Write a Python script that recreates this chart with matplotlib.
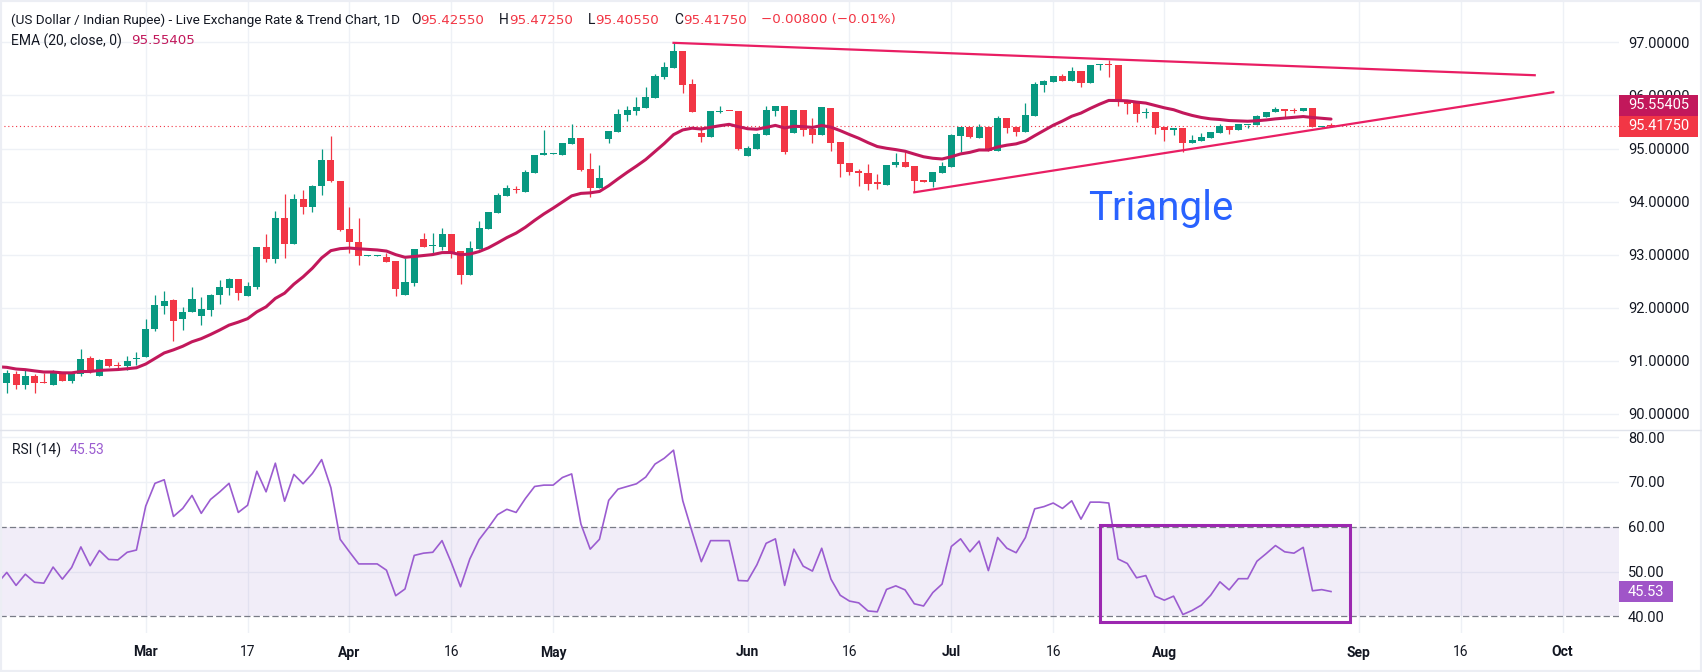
# USD/INR daily candles with EMA(20), triangle drawing and RSI(14) pane

import matplotlib.pyplot as plt
import matplotlib.patches as mpatches
import numpy as np
import pandas as pd

plt.rcParams['font.family'] = ['Roboto', 'DejaVu Sans']

start_date = "2026-02-09"

opens = [90.59, 90.75, 90.55, 90.72, 90.60, 90.55, 90.77, 90.63, 90.75, 91.05,
         90.72, 91.04, 90.93, 90.91, 91.03, 91.08, 91.60, 92.04, 92.15, 91.78,
         91.93, 91.85, 91.96, 92.25, 92.38, 92.54, 92.23, 92.40, 93.15, 92.91,
         93.69, 93.21, 94.05, 93.90, 94.30, 94.78, 94.39, 93.48, 93.24, 92.98,
         92.98, 92.95, 92.88, 92.24, 92.47, 93.29, 93.17, 93.15, 93.39, 93.07,
         92.61, 93.11, 93.48, 93.79, 94.11, 94.22, 94.19, 94.54, 94.87, 94.90,
         94.88, 95.08, 95.20, 94.61, 94.26, 95.17, 95.32, 95.64, 95.71, 95.77,
         95.96, 96.35, 96.52, 96.84, 96.21, 95.30, 95.22, 95.69, 95.71, 95.71,
         94.86, 94.99, 95.25, 95.71, 95.80, 95.30, 95.72, 95.37, 95.25, 95.76,
         95.12, 94.73, 94.58, 94.54, 94.35, 94.32, 94.68, 94.75, 94.67, 94.40,
         94.36, 94.54, 94.66, 95.24, 95.40, 95.20, 95.40, 94.96, 95.57, 95.40,
         95.32, 95.62, 96.20, 96.26, 96.37, 96.28, 96.46, 96.24, 96.58, 96.59,
         96.58, 95.91, 95.86, 95.66, 95.69, 95.40, 95.34, 95.39, 95.11, 95.15,
         95.20, 95.30, 95.43, 95.34, 95.44, 95.45, 95.60, 95.68, 95.75, 95.725,
         95.70, 95.76, 95.40, 95.4255]
highs = [90.83, 90.81, 90.84, 90.75, 90.78, 90.83, 90.80, 90.80, 91.22, 91.10,
         91.03, 91.04, 90.97, 91.09, 91.16, 91.78, 92.24, 92.32, 92.17, 92.01,
         92.39, 92.20, 92.26, 92.52, 92.57, 92.54, 92.49, 93.15, 93.39, 93.82,
         94.14, 94.14, 94.22, 94.31, 94.99, 95.24, 94.39, 93.90, 93.69, 93.00,
         92.99, 93.03, 92.88, 92.93, 93.11, 93.41, 93.41, 93.50, 93.39, 93.07,
         93.26, 93.63, 93.80, 94.16, 94.31, 94.30, 94.60, 94.88, 95.35, 94.92,
         95.10, 95.46, 95.20, 94.92, 94.69, 95.33, 95.74, 95.80, 95.97, 96.16,
         96.40, 96.62, 96.99, 96.84, 96.31, 95.43, 95.71, 95.80, 95.71, 95.71,
         95.05, 95.29, 95.80, 95.80, 95.80, 95.72, 95.72, 95.57, 95.78, 95.76,
         95.12, 94.73, 94.61, 94.71, 94.52, 94.69, 94.92, 94.93, 94.67, 94.40,
         94.55, 94.75, 95.27, 95.40, 95.40, 95.47, 95.40, 95.61, 95.57, 95.40,
         95.86, 96.26, 96.29, 96.37, 96.40, 96.53, 96.46, 96.58, 96.59, 96.67,
         96.58, 95.91, 95.86, 95.76, 95.69, 95.40, 95.39, 95.39, 95.25, 95.29,
         95.31, 95.46, 95.43, 95.46, 95.45, 95.63, 95.68, 95.78, 95.75, 95.76,
         95.76, 95.76, 95.43, 95.4725]
lows = [90.39, 90.48, 90.48, 90.40, 90.58, 90.55, 90.63, 90.59, 90.72, 90.78,
        90.72, 90.88, 90.86, 90.82, 90.92, 91.08, 91.57, 91.88, 91.38, 91.58,
        91.93, 91.68, 91.85, 92.07, 92.24, 92.15, 92.23, 92.36, 92.87, 92.85,
        92.93, 93.21, 93.77, 93.81, 94.13, 94.36, 93.45, 93.04, 92.81, 92.97,
        92.98, 92.87, 92.23, 92.24, 92.41, 93.15, 93.03, 93.09, 92.94, 92.45,
        92.61, 93.11, 93.48, 93.79, 94.11, 94.16, 94.19, 94.54, 94.87, 94.90,
        94.88, 95.08, 94.58, 94.09, 94.26, 95.11, 95.32, 95.52, 95.64, 95.77,
        95.96, 96.30, 96.52, 96.05, 95.69, 95.13, 95.22, 95.67, 95.70, 94.97,
        94.86, 94.99, 95.25, 95.62, 94.90, 95.30, 95.24, 95.11, 95.25, 94.96,
        94.47, 94.51, 94.30, 94.21, 94.23, 94.32, 94.66, 94.66, 94.18, 94.36,
        94.28, 94.54, 94.65, 94.93, 95.19, 95.20, 94.96, 94.96, 95.30, 95.24,
        95.32, 95.62, 96.07, 96.26, 96.28, 96.28, 96.15, 96.24, 96.47, 96.35,
        95.80, 95.65, 95.50, 95.57, 95.28, 95.15, 95.26, 94.94, 95.11, 95.15,
        95.20, 95.30, 95.28, 95.34, 95.39, 95.45, 95.60, 95.68, 95.59, 95.67,
        95.70, 95.41, 95.40, 95.4055]
closes = [90.77, 90.55, 90.72, 90.59, 90.59, 90.79, 90.63, 90.77, 91.04, 90.80,
          91.02, 90.91, 90.91, 91.00, 91.04, 91.61, 92.05, 92.13, 91.76, 91.92,
          92.17, 91.97, 92.24, 92.39, 92.54, 92.27, 92.41, 93.15, 92.91, 93.69,
          93.21, 94.05, 93.90, 94.29, 94.78, 94.38, 93.47, 93.23, 92.98, 92.99,
          92.99, 92.87, 92.36, 92.48, 93.11, 93.15, 93.18, 93.39, 93.06, 92.61,
          93.12, 93.50, 93.80, 94.12, 94.26, 94.21, 94.56, 94.88, 94.92, 94.91,
          95.10, 95.20, 94.60, 94.26, 94.44, 95.33, 95.65, 95.73, 95.78, 95.97,
          96.37, 96.53, 96.84, 96.20, 95.69, 95.22, 95.71, 95.71, 95.70, 94.99,
          95.01, 95.27, 95.72, 95.80, 94.93, 95.72, 95.35, 95.25, 95.78, 95.11,
          94.71, 94.56, 94.53, 94.33, 94.34, 94.69, 94.74, 94.66, 94.39, 94.36,
          94.55, 94.67, 95.25, 95.40, 95.21, 95.40, 94.96, 95.57, 95.39, 95.32,
          95.63, 96.21, 96.27, 96.37, 96.28, 96.46, 96.24, 96.58, 96.59, 96.58,
          95.89, 95.84, 95.65, 95.68, 95.39, 95.34, 95.39, 95.11, 95.16, 95.22,
          95.31, 95.43, 95.34, 95.46, 95.45, 95.61, 95.68, 95.75, 95.71, 95.71,
          95.76, 95.41, 95.4255, 95.4175]
rsi = [49.8, 46.9, 49.4, 47.6, 47.4, 51.0, 48.3, 50.9, 55.5, 51.3,
       54.7, 52.7, 52.6, 54.3, 54.8, 64.6, 69.7, 70.5, 62.3, 64.1,
       67.0, 63.0, 66.1, 67.8, 69.7, 63.2, 64.8, 72.4, 67.8, 74.2,
       65.7, 71.7, 69.6, 71.9, 75.0, 68.7, 57.2, 54.4, 51.7, 51.7,
       51.7, 50.3, 44.6, 46.1, 53.6, 54.1, 54.3, 56.9, 52.0, 46.6,
       52.8, 57.1, 59.8, 62.7, 63.9, 63.2, 66.3, 69.0, 69.3, 69.3,
       71.0, 71.8, 60.6, 55.0, 57.2, 65.9, 68.4, 69.0, 69.6, 71.1,
       74.0, 75.3, 77.1, 65.8, 58.9, 52.2, 56.9, 56.9, 56.9, 48.0,
       47.9, 51.5, 56.3, 57.3, 46.9, 55.0, 51.2, 50.1, 55.2, 48.3,
       44.7, 43.4, 43.0, 41.2, 41.0, 46.0, 46.8, 45.9, 42.8, 42.3,
       45.3, 47.2, 55.6, 57.3, 54.4, 56.8, 50.2, 57.6, 55.2, 54.2,
       57.6, 64.0, 64.5, 65.3, 64.1, 65.8, 61.7, 65.5, 65.5, 65.3,
       52.8, 51.8, 48.6, 49.1, 44.5, 43.6, 44.5, 40.4, 41.3, 42.5,
       44.7, 47.7, 45.9, 48.4, 48.4, 52.3, 54.0, 55.8, 54.4, 54.1,
       55.4, 45.7, 45.96, 45.53]

rsi_prev = 47.4        # RSI of the bar just left of the visible range
ema_seed = 90.89       # EMA level just before the first bar
ema_value = 95.55405   # value shown in the legend

tick_dates = ["2026-03-02", "2026-03-17", "2026-04-01", "2026-04-16", "2026-05-01",
              "2026-06-01", "2026-06-16", "2026-07-01", "2026-07-16", "2026-08-03",
              "2026-09-01", "2026-09-16", "2026-10-01"]
tick_labels = ["Mar", "17", "Apr", "16", "May", "Jun", "16", "Jul", "16", "Aug",
               "Sep", "16", "Oct"]
price_ticks = [90, 91, 92, 93, 94, 95, 96, 97]
rsi_ticks = [40, 50, 60, 70, 80]

upper_dates = ["2026-05-20", "2026-09-28"]
upper_prices = [96.99, 96.38]
lower_dates = ["2026-06-25", "2026-09-30"]
lower_prices = [94.175, 96.06]
box_dates = ["2026-07-23", "2026-08-31"]
box_rsi = [38.8, 60.3]

up_col = "#089981"
down_col = "#f23645"
ema_col = "#c2185b"
line_col = "#e91e63"
rsi_col = "#9b5cd0"
grid_col = "#eef1f6"
txt_col = "#131722"

dates = pd.bdate_range(start_date, "2026-10-30")
pos = {d.strftime("%Y-%m-%d"): i for i, d in enumerate(dates)}
n = len(closes)
x = np.arange(n)

ema_full = pd.Series([ema_seed] + closes).ewm(span=20, adjust=False).mean().to_numpy()

W, H = 1702, 672
fig = plt.figure(figsize=(W / 100, H / 100), dpi=100)
fig.patch.set_facecolor("white")

right_px = 1619
ax = fig.add_axes([0, 1 - 429.5 / H, right_px / W, (429.5 - 2) / H])
ax2 = fig.add_axes([0, 1 - 633 / H, right_px / W, (633 - 430.5) / H], sharex=ax)

ax.set_xlim(-0.734, 174.1)
ax.set_ylim(89.708, 97.759)
ax2.set_ylim(36.27, 81.50)

tick_pos = [pos[d] for d in tick_dates]

# price pane
for t in tick_pos:
    ax.axvline(t, color=grid_col, lw=1, zorder=0)
    ax2.axvline(t, color=grid_col, lw=1, zorder=0)
for p in price_ticks:
    ax.axhline(p, color=grid_col, lw=1, zorder=0)

colors = [up_col if c >= o else down_col for o, c in zip(opens, closes)]
body_low = np.minimum(opens, closes)
body_h = np.maximum(np.abs(np.array(closes) - np.array(opens)), 0.02)
ax.vlines(x, lows, highs, colors=colors, lw=0.9, zorder=2)
ax.bar(x, body_h, bottom=body_low, width=0.76, color=colors, lw=0, zorder=3)

ax.plot(np.arange(-1, n), ema_full, color=ema_col, lw=2.2, zorder=4, solid_capstyle="round")
ax.axhline(closes[-1], color=down_col, lw=0.8, linestyle=(0, (1, 2.5)), zorder=1)

ax.plot([pos[d] for d in upper_dates], upper_prices, color=line_col, lw=1.6, zorder=5)
ax.plot([pos[d] for d in lower_dates], lower_prices, color=line_col, lw=1.6, zorder=5)
ax.text(pos["2026-07-21"] + 0.8, 93.65, "Triangle", color="#2962ff", fontsize=29,
        ha="left", va="baseline", zorder=6)

ax.yaxis.tick_right()
ax.set_yticks(price_ticks)
ax.set_yticklabels([f"{p:.5f}" for p in price_ticks])
ax.tick_params(axis="y", length=0, pad=6.5, labelsize=10.5, labelcolor=txt_col)
ax.tick_params(axis="x", length=0, labelbottom=False)

# RSI pane
for r in [50, 70, 80]:
    ax2.axhline(r, color=grid_col, lw=1, zorder=0)
ax2.axhspan(40, 60, color="#7e57c2", alpha=0.1, lw=0, zorder=0)
for r in [40, 60]:
    ax2.axhline(r, color="#787b86", lw=0.9, linestyle=(0, (5, 2.5)), zorder=1)
ax2.plot(np.arange(-1, n), [rsi_prev] + rsi, color=rsi_col, lw=1.2, zorder=3)
bx = [pos[d] for d in box_dates]
ax2.add_patch(mpatches.Rectangle((bx[0], box_rsi[0]), bx[1] - bx[0], box_rsi[1] - box_rsi[0],
                                 fill=False, edgecolor="#9c27b0", lw=2.2, zorder=4))

ax2.yaxis.tick_right()
ax2.set_yticks(rsi_ticks)
ax2.set_yticklabels([f"{r:.2f}" for r in rsi_ticks])
ax2.tick_params(axis="y", length=0, pad=6.5, labelsize=10.5, labelcolor=txt_col)
ax2.set_xticks(tick_pos)
ax2.set_xticklabels(tick_labels)
ax2.tick_params(axis="x", length=0, pad=9, labelsize=10, labelcolor=txt_col)
for lab in ax2.get_xticklabels():
    if not lab.get_text().isdigit():
        lab.set_fontweight("bold")

for a in (ax, ax2):
    for s in a.spines.values():
        s.set_visible(False)
    a.set_facecolor("white")

# pane separator and outer frame
fig.add_artist(plt.Line2D([0, 1], [1 - 430 / H, 1 - 430 / H], transform=fig.transFigure,
                          color="#e0e3eb", lw=1))
fig.add_artist(mpatches.Rectangle((0, 0), 1, 1, transform=fig.transFigure, fill=False,
                                  ec="#eceef4", lw=3))


# value boxes on the right axis
def value_box(axis, value, text, color, width, shift=0):
    y = axis.transData.transform((0, value))[1] + shift
    fig.add_artist(mpatches.Rectangle((right_px / W, (y - 10.5) / H), width / W, 21 / H,
                                      transform=fig.transFigure, fc=color, ec="none", zorder=5))
    fig.text((right_px + 9) / W, y / H, text, color="white", fontsize=10.5,
             ha="left", va="center", zorder=6)


value_box(ax, closes[-1], f"{closes[-1]:.5f}", down_col, 79)
value_box(ax, closes[-1], f"{ema_value:.5f}", ema_col, 79, shift=21)
value_box(ax2, rsi[-1], f"{rsi[-1]:.2f}", "#a055c8", 54)

# legend rows
renderer = fig.canvas.get_renderer()
num_font = ['DejaVu Sans']


def text_row(y, pieces, x0=11):
    xp = x0
    for s, c, gap, size, fam in pieces:
        kw = {"family": fam} if fam else {}
        t = fig.text(xp / W, 1 - y / H, s, color=c, fontsize=size, ha="left", va="center", **kw)
        xp += t.get_window_extent(renderer).width + gap


chg = closes[-1] - closes[-2]
pct = chg / closes[-2] * 100
text_row(20, [
    ("(US Dollar / Indian Rupee) - Live Exchange Rate & Trend Chart, 1D", txt_col, 11, 9.7, None),
    ("O", txt_col, 0, 10, None), (f"{opens[-1]:.5f}", down_col, 15, 9.6, num_font),
    ("H", txt_col, 0, 10, None), (f"{highs[-1]:.5f}", down_col, 15, 9.6, num_font),
    ("L", txt_col, 0, 10, None), (f"{lows[-1]:.5f}", down_col, 15, 9.6, num_font),
    ("C", txt_col, 0, 10, None), (f"{closes[-1]:.5f}", down_col, 14, 9.6, num_font),
    (f"{chg:.5f} ({pct:.2f}%)".replace("-", "\u2212"), down_col, 0, 9.6, num_font),
])
text_row(41, [("EMA (20, close, 0)", txt_col, 9, 10, None),
              (f"{ema_value:.5f}", ema_col, 0, 9.6, num_font)])
text_row(450, [("RSI (14)", txt_col, 8, 10, None), (f"{rsi[-1]:.2f}", rsi_col, 0, 10, None)], x0=12)

plt.savefig("out.png", dpi=100, facecolor="white")
